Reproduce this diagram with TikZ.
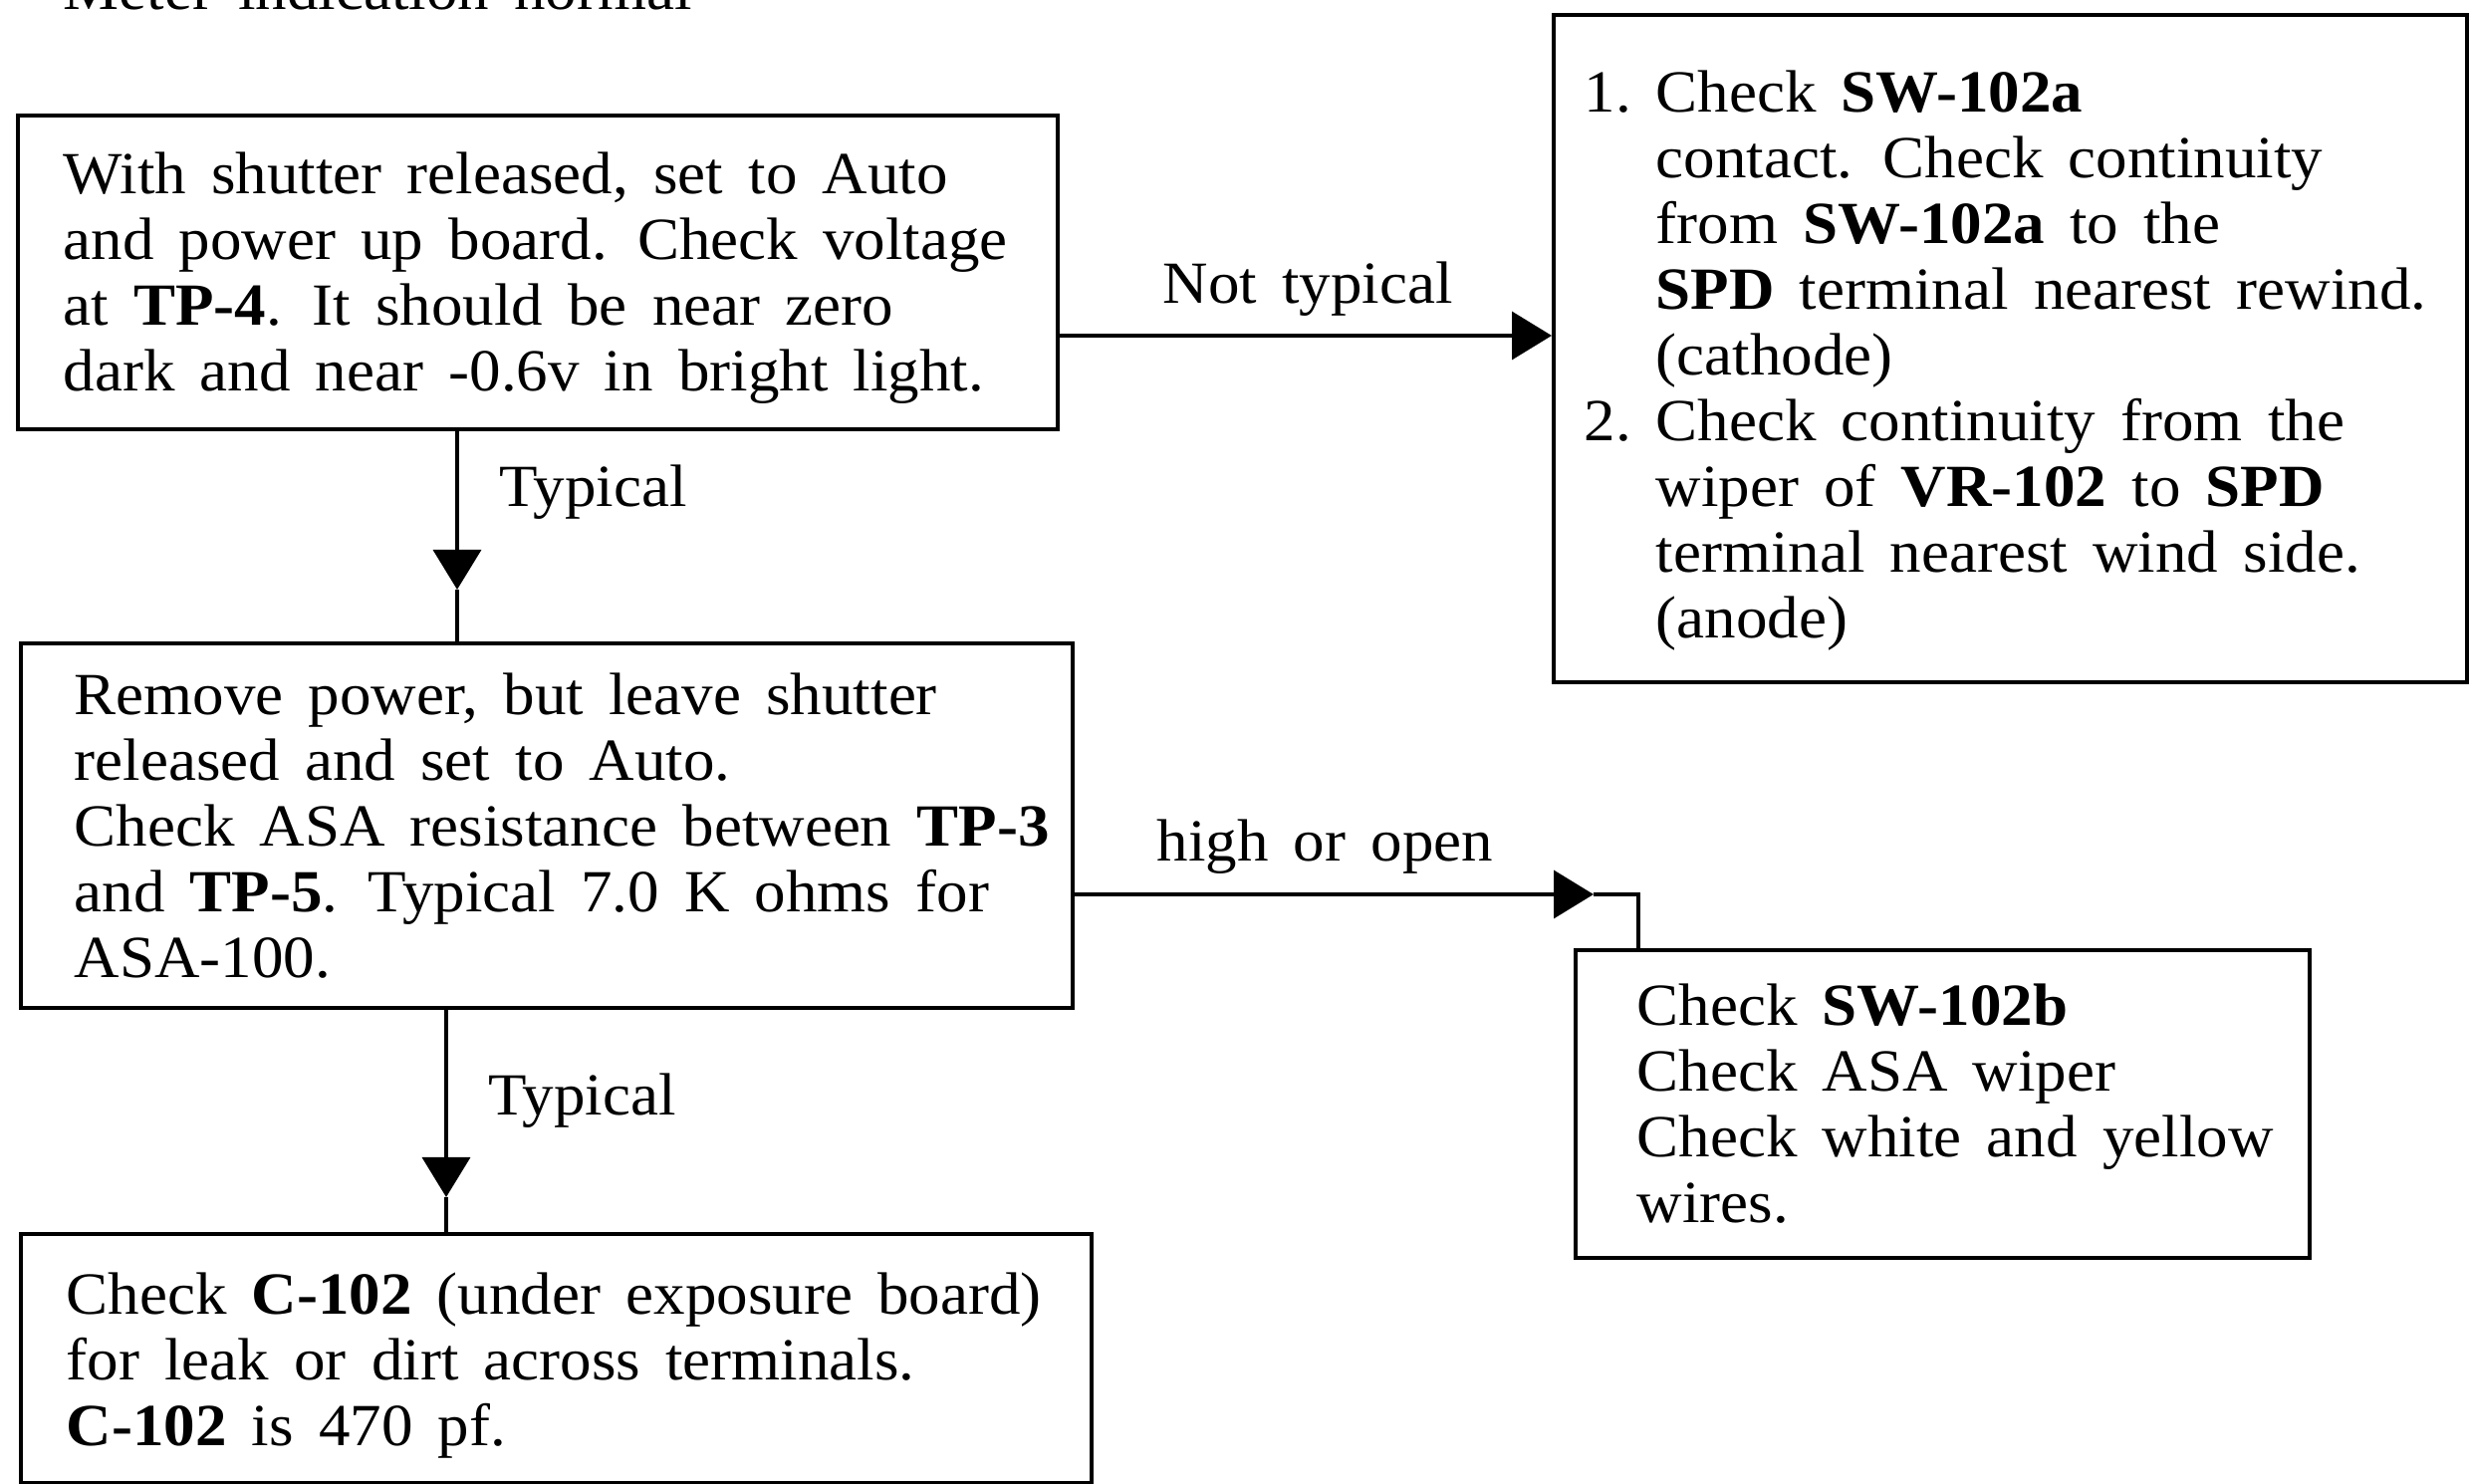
\documentclass[tikz,border=0pt]{standalone}
\usepackage{fontspec}
\setmainfont{Liberation Serif}[FakeStretch=1.05, WordSpace=1.6]
\usetikzlibrary{arrows.meta,calc}

\newlength\itemind
\setlength\itemind{21.6pt}
\newcommand\numlbl[1]{\makebox[\itemind][l]{#1}}
\newcommand\contline{\hspace*{\itemind}}

\begin{document}
\begin{tikzpicture}[x=0.3pt,y=-0.3pt,
  frame/.style={draw, line width=1.1pt, inner sep=0pt, anchor=north west},
  txt/.style={inner sep=0pt, align=left, anchor=west,
    font=\fontsize{18pt}{19.8pt}\selectfont},
  lbl/.style={inner sep=0pt, anchor=base west,
    font=\fontsize{18pt}{19.8pt}\selectfont},
  flow/.style={line width=1.1pt},
  tip/.style={flow, -{Triangle[length=12pt,width=14.4pt]}}]

\useasboundingbox (0,0) rectangle (2480,1490);

% heading line running off the top edge
\node[lbl] (head) at (63,10) {Meter indication normal};

% step boxes
\node[frame, minimum width=313.2pt, minimum height=94.5pt] (A) at (16,114) {};
\node[frame, minimum width=275.1pt, minimum height=201pt] (B) at (1558,13) {};
\node[frame, minimum width=316.8pt, minimum height=109.8pt] (C) at (19,644) {};
\node[frame, minimum width=221.1pt, minimum height=92.7pt] (D) at (1580,952) {};
\node[frame, minimum width=322.5pt, minimum height=75pt] (E) at (19,1237) {};

% box texts
\node[txt] (At) at ($(A.west)+(47,6)$) {%
With shutter released, set to Auto\\
and power up board. Check voltage\\
at \textbf{TP-4}. It should be near zero\\
dark and near -0.6v in bright light.};

\node[txt] (Bt) at ($(B.west)+(32,12)$) {%
\numlbl{1.}Check \textbf{SW-102a}\\
\contline contact. Check continuity\\
\contline from \textbf{SW-102a} to the\\
\contline\textbf{SPD} terminal nearest rewind.\\
\contline (cathode)\\
\numlbl{2.}Check continuity from the\\
\contline wiper of \textbf{VR-102} to \textbf{SPD}\\
\contline terminal nearest wind side.\\
\contline (anode)};

\node[txt] (Ct) at ($(C.west)+(55,0)$) {%
Remove power, but leave shutter\\
released and set to Auto.\\
Check ASA resistance between \textbf{TP-3}\\
and \textbf{TP-5}. Typical 7.0 K ohms for\\
ASA-100.};

\node[txt] (Dt) at ($(D.west)+(63,0)$) {%
Check \textbf{SW-102b}\\
Check ASA wiper\\
Check white and yellow\\
wires.};

\node[txt] (Et) at ($(E.west)+(47,7)$) {%
Check \textbf{C-102} (under exposure board)\\
for leak or dirt across terminals.\\
\textbf{C-102} is 470 pf.};

% connector geometry
\coordinate (r0) at (0,337);
\coordinate (t1) at (459,592);
\coordinate (t2) at (448,1202);
\coordinate (t3) at (1600,898);
\coordinate (c3) at (1645,898);

% connectors
\draw[tip] (r0 -| A.east) -- (r0 -| B.west);
\draw[tip] (t1 |- A.south) -- (t1);
\draw[flow] (t1) -- (t1 |- C.north);
\draw[tip] (t3 -| C.east) -- (t3);
\draw[flow] (t3) -- (c3) -- (c3 |- D.north);
\draw[tip] (t2 |- C.south) -- (t2);
\draw[flow] (t2) -- (t2 |- E.north);

% connector labels
\node[lbl] (l0) at (1167,305) {Not typical};
\node[lbl] (l1) at (501,509) {Typical};
\node[lbl] (l3) at (1161,865) {high or open};
\node[lbl] (l2) at (490,1120) {Typical};

\end{tikzpicture}
\end{document}
